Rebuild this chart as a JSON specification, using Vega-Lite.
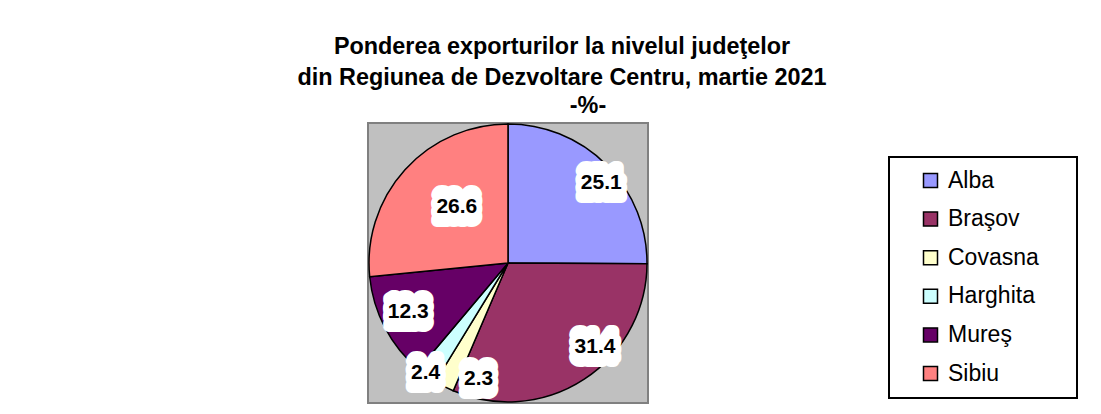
{
  "$schema": "https://vega.github.io/schema/vega-lite/v6.json",
  "autosize": "none",
  "width": 280,
  "height": 280,
  "padding": {"left": 368, "top": 123, "right": 453, "bottom": 11},
  "background": "white",
  "title": {
    "text": ["Ponderea exporturilor la nivelul judeţelor", "din Regiunea de Dezvoltare Centru, martie 2021"],
    "subtitle": "\u200b\u00a0\u00a0\u00a0\u00a0\u00a0\u00a0\u00a0\u00a0-%-",
    "anchor": "middle",
    "dx": 54,
    "offset": 3,
    "font": "Liberation Sans",
    "fontSize": 23.4,
    "fontWeight": "bold",
    "color": "black",
    "lineHeight": 31,
    "subtitleFont": "Liberation Sans",
    "subtitleFontSize": 23.4,
    "subtitleFontWeight": "bold",
    "subtitleColor": "black",
    "subtitlePadding": 4
  },
  "data": {
    "values": [
      {"county": "Alba", "value": 25.1},
      {"county": "Braşov", "value": 31.4},
      {"county": "Covasna", "value": 2.3},
      {"county": "Harghita", "value": 2.4},
      {"county": "Mureş", "value": 12.3},
      {"county": "Sibiu", "value": 26.6}
    ]
  },
  "layer": [
    {
      "mark": {"type": "rect", "fill": "#C0C0C0", "stroke": "#808080", "strokeWidth": 2},
      "encoding": {}
    },
    {
      "encoding": {
        "theta": {"field": "value", "type": "quantitative", "stack": true},
        "order": {"field": "county", "type": "ordinal", "sort": "ascending"}
      },
      "layer": [
        {
          "mark": {"type": "arc", "outerRadius": 139, "stroke": "black", "strokeWidth": 1.5},
          "encoding": {
            "color": {
              "field": "county", "type": "nominal",
              "scale": {"domain": ["Alba", "Braşov", "Covasna", "Harghita", "Mureş", "Sibiu"],
                        "range": ["#9999FF", "#993366", "#FFFFCC", "#CCFFFF", "#660066", "#FF8080"]},
              "legend": {
                "title": null, "orient": "none", "legendX": 521, "legendY": 34,
                "strokeColor": "black", "fillColor": "white", "padding": 12,
                "symbolType": "square", "symbolSize": 196, "symbolStrokeColor": "black", "symbolStrokeWidth": 1.5,
                "symbolOffset": 18, "labelFont": "Liberation Sans", "labelFontSize": 23, "labelColor": "black",
                "labelOffset": 6, "rowPadding": 14.6, "symbolOpacity": 1,
                "labelExpr": "datum.label + '\u00a0\u00a0\u00a0\u00a0\u200b'",
                "encode": {"legend": {"update": {"strokeWidth": {"value": 2}}}}
              }
            }
          }
        },

        {"mark": {"type": "text", "radius": 123, "thetaOffset": 0.073, "dy": -8, "fill": "white", "stroke": "white", "strokeWidth": 12, "strokeJoin": "round", "font": "Liberation Sans", "fontSize": 21, "fontWeight": "bold"},
         "encoding": {"text": {"condition": {"test": "datum.county === 'Alba'", "field": "value", "type": "quantitative", "format": ".1f"}, "value": ""}}},
        {"mark": {"type": "text", "radius": 123, "thetaOffset": 0.073, "dy": 0, "fill": "white", "stroke": "white", "strokeWidth": 12, "strokeJoin": "round", "font": "Liberation Sans", "fontSize": 21, "fontWeight": "bold"},
         "encoding": {"text": {"condition": {"test": "datum.county === 'Alba'", "field": "value", "type": "quantitative", "format": ".1f"}, "value": ""}}},
        {"mark": {"type": "text", "radius": 123, "thetaOffset": 0.073, "dy": 8, "fill": "white", "stroke": "white", "strokeWidth": 12, "strokeJoin": "round", "font": "Liberation Sans", "fontSize": 21, "fontWeight": "bold"},
         "encoding": {"text": {"condition": {"test": "datum.county === 'Alba'", "field": "value", "type": "quantitative", "format": ".1f"}, "value": ""}}},
        {"mark": {"type": "text", "radius": 123, "thetaOffset": 0.073, "fill": "black", "font": "Liberation Sans", "fontSize": 21, "fontWeight": "bold"},
         "encoding": {"text": {"condition": {"test": "datum.county === 'Alba'", "field": "value", "type": "quantitative", "format": ".1f"}, "value": ""}}},

        {"mark": {"type": "text", "radius": 121, "thetaOffset": -0.222, "dy": -8, "fill": "white", "stroke": "white", "strokeWidth": 12, "strokeJoin": "round", "font": "Liberation Sans", "fontSize": 21, "fontWeight": "bold"},
         "encoding": {"text": {"condition": {"test": "datum.county === 'Braşov'", "field": "value", "type": "quantitative", "format": ".1f"}, "value": ""}}},
        {"mark": {"type": "text", "radius": 121, "thetaOffset": -0.222, "dy": 0, "fill": "white", "stroke": "white", "strokeWidth": 12, "strokeJoin": "round", "font": "Liberation Sans", "fontSize": 21, "fontWeight": "bold"},
         "encoding": {"text": {"condition": {"test": "datum.county === 'Braşov'", "field": "value", "type": "quantitative", "format": ".1f"}, "value": ""}}},
        {"mark": {"type": "text", "radius": 121, "thetaOffset": -0.222, "dy": 8, "fill": "white", "stroke": "white", "strokeWidth": 12, "strokeJoin": "round", "font": "Liberation Sans", "fontSize": 21, "fontWeight": "bold"},
         "encoding": {"text": {"condition": {"test": "datum.county === 'Braşov'", "field": "value", "type": "quantitative", "format": ".1f"}, "value": ""}}},
        {"mark": {"type": "text", "radius": 121, "thetaOffset": -0.222, "fill": "black", "font": "Liberation Sans", "fontSize": 21, "fontWeight": "bold"},
         "encoding": {"text": {"condition": {"test": "datum.county === 'Braşov'", "field": "value", "type": "quantitative", "format": ".1f"}, "value": ""}}},

        {"mark": {"type": "text", "radius": 120, "thetaOffset": -0.230, "dy": -8, "fill": "white", "stroke": "white", "strokeWidth": 12, "strokeJoin": "round", "font": "Liberation Sans", "fontSize": 21, "fontWeight": "bold"},
         "encoding": {"text": {"condition": {"test": "datum.county === 'Covasna'", "field": "value", "type": "quantitative", "format": ".1f"}, "value": ""}}},
        {"mark": {"type": "text", "radius": 120, "thetaOffset": -0.230, "dy": 0, "fill": "white", "stroke": "white", "strokeWidth": 12, "strokeJoin": "round", "font": "Liberation Sans", "fontSize": 21, "fontWeight": "bold"},
         "encoding": {"text": {"condition": {"test": "datum.county === 'Covasna'", "field": "value", "type": "quantitative", "format": ".1f"}, "value": ""}}},
        {"mark": {"type": "text", "radius": 120, "thetaOffset": -0.230, "dy": 8, "fill": "white", "stroke": "white", "strokeWidth": 12, "strokeJoin": "round", "font": "Liberation Sans", "fontSize": 21, "fontWeight": "bold"},
         "encoding": {"text": {"condition": {"test": "datum.county === 'Covasna'", "field": "value", "type": "quantitative", "format": ".1f"}, "value": ""}}},
        {"mark": {"type": "text", "radius": 120, "thetaOffset": -0.230, "fill": "black", "font": "Liberation Sans", "fontSize": 21, "fontWeight": "bold"},
         "encoding": {"text": {"condition": {"test": "datum.county === 'Covasna'", "field": "value", "type": "quantitative", "format": ".1f"}, "value": ""}}},

        {"mark": {"type": "text", "radius": 137, "thetaOffset": 0.02, "dy": -8, "fill": "white", "stroke": "white", "strokeWidth": 12, "strokeJoin": "round", "font": "Liberation Sans", "fontSize": 21, "fontWeight": "bold"},
         "encoding": {"text": {"condition": {"test": "datum.county === 'Harghita'", "field": "value", "type": "quantitative", "format": ".1f"}, "value": ""}}},
        {"mark": {"type": "text", "radius": 137, "thetaOffset": 0.02, "dy": 0, "fill": "white", "stroke": "white", "strokeWidth": 12, "strokeJoin": "round", "font": "Liberation Sans", "fontSize": 21, "fontWeight": "bold"},
         "encoding": {"text": {"condition": {"test": "datum.county === 'Harghita'", "field": "value", "type": "quantitative", "format": ".1f"}, "value": ""}}},
        {"mark": {"type": "text", "radius": 137, "thetaOffset": 0.02, "dy": 8, "fill": "white", "stroke": "white", "strokeWidth": 12, "strokeJoin": "round", "font": "Liberation Sans", "fontSize": 21, "fontWeight": "bold"},
         "encoding": {"text": {"condition": {"test": "datum.county === 'Harghita'", "field": "value", "type": "quantitative", "format": ".1f"}, "value": ""}}},
        {"mark": {"type": "text", "radius": 137, "thetaOffset": 0.02, "fill": "black", "font": "Liberation Sans", "fontSize": 21, "fontWeight": "bold"},
         "encoding": {"text": {"condition": {"test": "datum.county === 'Harghita'", "field": "value", "type": "quantitative", "format": ".1f"}, "value": ""}}},

        {"mark": {"type": "text", "radius": 111, "thetaOffset": 0.03, "dy": -8, "fill": "white", "stroke": "white", "strokeWidth": 12, "strokeJoin": "round", "font": "Liberation Sans", "fontSize": 21, "fontWeight": "bold"},
         "encoding": {"text": {"condition": {"test": "datum.county === 'Mureş'", "field": "value", "type": "quantitative", "format": ".1f"}, "value": ""}}},
        {"mark": {"type": "text", "radius": 111, "thetaOffset": 0.03, "dy": 0, "fill": "white", "stroke": "white", "strokeWidth": 12, "strokeJoin": "round", "font": "Liberation Sans", "fontSize": 21, "fontWeight": "bold"},
         "encoding": {"text": {"condition": {"test": "datum.county === 'Mureş'", "field": "value", "type": "quantitative", "format": ".1f"}, "value": ""}}},
        {"mark": {"type": "text", "radius": 111, "thetaOffset": 0.03, "dy": 8, "fill": "white", "stroke": "white", "strokeWidth": 12, "strokeJoin": "round", "font": "Liberation Sans", "fontSize": 21, "fontWeight": "bold"},
         "encoding": {"text": {"condition": {"test": "datum.county === 'Mureş'", "field": "value", "type": "quantitative", "format": ".1f"}, "value": ""}}},
        {"mark": {"type": "text", "radius": 111, "thetaOffset": 0.03, "fill": "black", "font": "Liberation Sans", "fontSize": 21, "fontWeight": "bold"},
         "encoding": {"text": {"condition": {"test": "datum.county === 'Mureş'", "field": "value", "type": "quantitative", "format": ".1f"}, "value": ""}}},

        {"mark": {"type": "text", "radius": 76, "thetaOffset": 0.096, "dy": -8, "fill": "white", "stroke": "white", "strokeWidth": 12, "strokeJoin": "round", "font": "Liberation Sans", "fontSize": 21, "fontWeight": "bold"},
         "encoding": {"text": {"condition": {"test": "datum.county === 'Sibiu'", "field": "value", "type": "quantitative", "format": ".1f"}, "value": ""}}},
        {"mark": {"type": "text", "radius": 76, "thetaOffset": 0.096, "dy": 0, "fill": "white", "stroke": "white", "strokeWidth": 12, "strokeJoin": "round", "font": "Liberation Sans", "fontSize": 21, "fontWeight": "bold"},
         "encoding": {"text": {"condition": {"test": "datum.county === 'Sibiu'", "field": "value", "type": "quantitative", "format": ".1f"}, "value": ""}}},
        {"mark": {"type": "text", "radius": 76, "thetaOffset": 0.096, "dy": 8, "fill": "white", "stroke": "white", "strokeWidth": 12, "strokeJoin": "round", "font": "Liberation Sans", "fontSize": 21, "fontWeight": "bold"},
         "encoding": {"text": {"condition": {"test": "datum.county === 'Sibiu'", "field": "value", "type": "quantitative", "format": ".1f"}, "value": ""}}},
        {"mark": {"type": "text", "radius": 76, "thetaOffset": 0.096, "fill": "black", "font": "Liberation Sans", "fontSize": 21, "fontWeight": "bold"},
         "encoding": {"text": {"condition": {"test": "datum.county === 'Sibiu'", "field": "value", "type": "quantitative", "format": ".1f"}, "value": ""}}}
      ]
    }
  ],
  "config": {
    "view": {"stroke": null},
    "text": {"align": "center", "baseline": "middle"}
  }
}
